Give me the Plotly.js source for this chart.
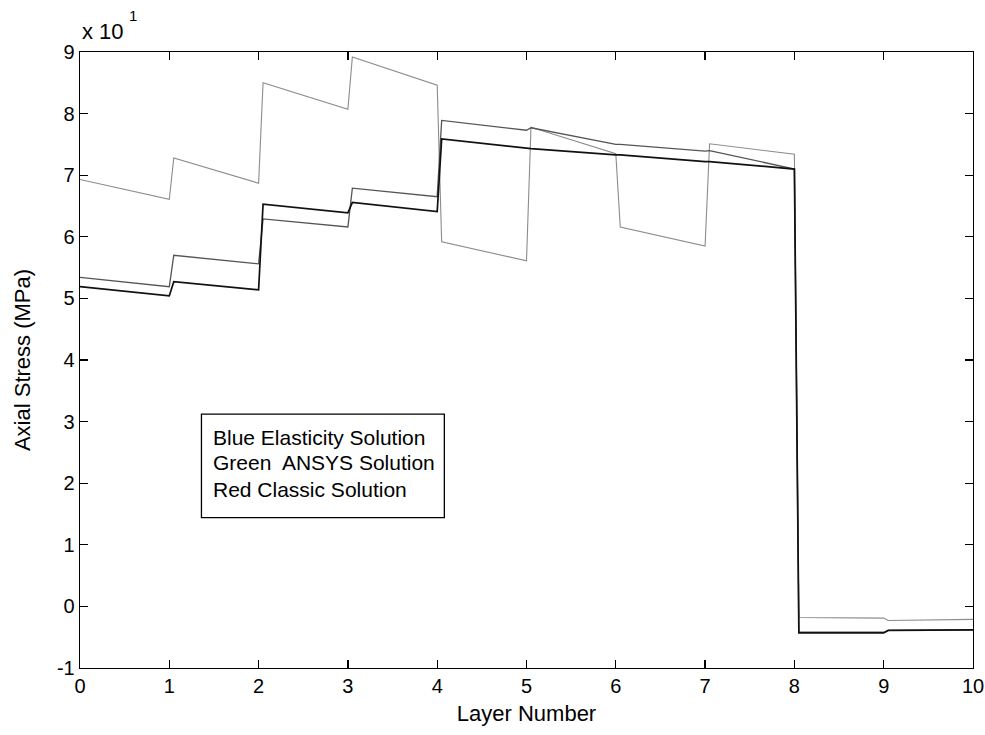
<!DOCTYPE html>
<html>
<head>
<meta charset="utf-8">
<script src="https://cdn.plot.ly/plotly-3.0.1.min.js"></script>
<style>
  html, body { margin: 0; padding: 0; background: #fff; }
  #chart { width: 985px; height: 735px; }
</style>
</head>
<body>
<div id="chart"></div>
<script>
// Positions through the laminate: each layer is sampled at its start and end
const layerPos = [0, 1, 1.05, 2, 2.05, 3, 3.05, 4, 4.05, 5, 5.05, 6, 6.05, 7, 7.05, 8, 8.05, 9, 9.05, 10];

// Axial stress (MPa) at those positions
const classicStress = [69.3, 66.1, 72.8, 68.7, 85.0, 80.7, 89.2, 84.6, 59.2, 56.1,
                       77.8, 73.5, 61.6, 58.5, 75.1, 73.4, -1.8, -1.9, -2.3, -2.1];
const ansysStress   = [53.4, 51.9, 57.0, 55.6, 62.9, 61.6, 67.9, 66.5, 78.9, 77.3,
                       77.7, 75.0, 75.0, 73.9, 74.0, 71.0, -4.2, -4.2, -3.9, -3.8];
const elasticStress = [51.9, 50.4, 52.7, 51.4, 65.3, 63.9, 65.6, 64.1, 75.9, 74.4,
                       74.3, 73.3, 73.3, 72.2, 72.2, 71.0, -4.3, -4.3, -3.9, -3.8];

const xTicks = [0, 1, 2, 3, 4, 5, 6, 7, 8, 9, 10];
const yTicks = [-10, 0, 10, 20, 30, 40, 50, 60, 70, 80, 90];
const yTickText = ['-1', '0', '1', '2', '3', '4', '5', '6', '7', '8', '9'];

const noteLines = ['Blue Elasticity Solution', 'Green  ANSYS Solution', 'Red Classic Solution'];
const noteY = [27.5, 23.3, 18.9];

const FONT = 'Liberation Sans, Arial, Helvetica, sans-serif';

const traces = [
  { x: layerPos, y: classicStress, name: 'Classic Solution', mode: 'lines',
    line: { color: '#8c8c8c', width: 1.1 } },
  { x: layerPos, y: ansysStress, name: 'ANSYS Solution', mode: 'lines',
    line: { color: '#555555', width: 1.3 } },
  { x: layerPos, y: elasticStress, name: 'Elasticity Solution', mode: 'lines',
    line: { color: '#111111', width: 1.7 } }
];

const annotations = noteLines.map((t, i) => ({
  x: 1.47, y: noteY[i], xref: 'x', yref: 'y', text: t, showarrow: false,
  xanchor: 'left', yanchor: 'middle', font: { family: FONT, size: 21, color: '#000' }
}));
// exponent marker above the y axis
annotations.push({
  x: 0, y: 1, xref: 'paper', yref: 'paper', xshift: 0, yshift: 6,
  text: 'x 10', showarrow: false, xanchor: 'left', yanchor: 'bottom',
  font: { family: FONT, size: 22, color: '#000' }
});
annotations.push({
  x: 0, y: 1, xref: 'paper', yref: 'paper', xshift: 47, yshift: 26,
  text: '1', showarrow: false, xanchor: 'left', yanchor: 'bottom',
  font: { family: FONT, size: 15, color: '#000' }
});

const axisCommon = {
  showgrid: false, zeroline: false, showline: true, linecolor: '#000', linewidth: 1.3,
  mirror: 'allticks', ticks: 'inside', ticklen: 8, tickwidth: 1.3, tickcolor: '#000',
  tickfont: { family: FONT, size: 20, color: '#000' }
};

const layout = {
  width: 985, height: 735,
  margin: { l: 80, r: 12, t: 52, b: 67 },
  paper_bgcolor: '#fff', plot_bgcolor: '#fff',
  showlegend: false,
  xaxis: Object.assign({}, axisCommon, {
    range: [0, 10], tickvals: xTicks, ticktext: xTicks.map(String),
    title: { text: 'Layer Number', font: { family: FONT, size: 22, color: '#000' }, standoff: 9 }
  }),
  yaxis: Object.assign({}, axisCommon, {
    range: [-10, 90], tickvals: yTicks, ticktext: yTickText,
    title: { text: 'Axial Stress (MPa)', font: { family: FONT, size: 22, color: '#000' }, standoff: 20 }
  }),
  shapes: [{
    type: 'rect', xref: 'x', yref: 'y', x0: 1.36, x1: 4.08, y0: 14.4, y1: 31.2,
    line: { color: '#000', width: 1.3 }, fillcolor: '#fff', layer: 'below'
  }],
  annotations: annotations
};

Plotly.newPlot('chart', traces, layout, { staticPlot: true, displayModeBar: false });
</script>
</body>
</html>
